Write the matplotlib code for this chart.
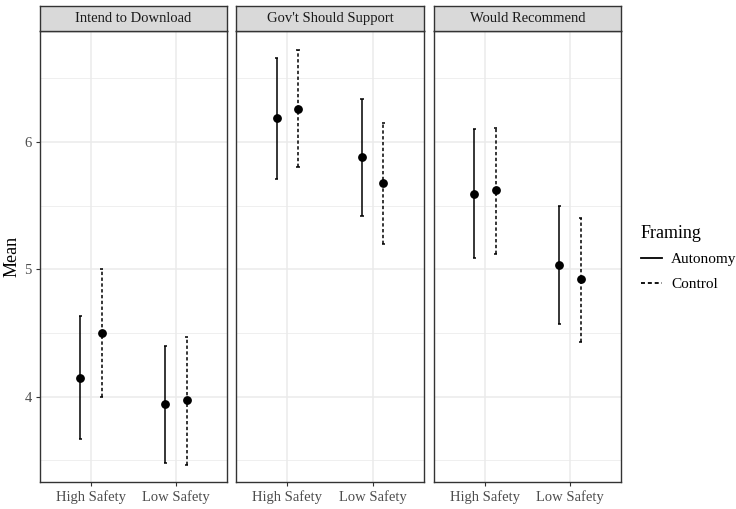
import matplotlib
matplotlib.use("Agg")
import matplotlib.pyplot as plt
from matplotlib.lines import Line2D
import numpy as np

plt.rcParams['font.family'] = ['Liberation Serif', 'DejaVu Serif']

panels = ["Intend to Download", "Gov't Should Support", "Would Recommend"]
categories = ["High Safety", "Low Safety"]
series = ["Autonomy", "Control"]

# values per panel, [High Safety, Low Safety]
mean_autonomy = [[4.15, 3.94], [6.19, 5.88], [5.59, 5.03]]
lower_autonomy = [[3.67, 3.48], [5.71, 5.42], [5.09, 4.57]]
upper_autonomy = [[4.63, 4.40], [6.66, 6.34], [6.10, 5.50]]
mean_control = [[4.50, 3.97], [6.26, 5.68], [5.62, 4.92]]
lower_control = [[4.00, 3.46], [5.80, 5.20], [5.12, 4.43]]
upper_control = [[5.00, 4.47], [6.72, 6.15], [6.11, 5.40]]

yticks = [4, 5, 6]

W, H = 736, 509
fig = plt.figure(figsize=(W / 100, H / 100), dpi=100)

panel_x = [(40, 227), (236, 424), (434, 621)]
ptop, pbot = 31, 482
stop, sbot = 6, 31

dash = (0, (2.2, 1.6))
styles = {"Autonomy": "-", "Control": dash}
dodge = 0.125
ylim = (3.33, 6.87)

for i, (x0, x1) in enumerate(panel_x):
    ax = fig.add_axes([x0 / W, 1 - pbot / H, (x1 - x0) / W, (pbot - ptop) / H])
    ax.set_xlim(0.4, 2.6)
    ax.set_ylim(*ylim)
    ax.set_facecolor('white')
    for y in yticks:
        ax.axhline(y, color='#EBEBEB', lw=1.1, zorder=0)
    for y in [3.5, 4.5, 5.5, 6.5]:
        ax.axhline(y, color='#EBEBEB', lw=0.55, zorder=0)
    xs = np.arange(1, len(categories) + 1)
    for x in xs:
        ax.axvline(x, color='#EBEBEB', lw=1.1, zorder=0)
    for s, (m, lo, hi, off) in zip(series, [
            (mean_autonomy[i], lower_autonomy[i], upper_autonomy[i], -dodge),
            (mean_control[i], lower_control[i], upper_control[i], dodge)]):
        xp = xs + off
        ax.vlines(xp, lo, hi, colors='black', linestyles=[styles[s]], lw=1.1, zorder=2)
        ax.hlines(lo, xp - 0.02, xp + 0.02, colors='black', lw=1.1, zorder=2)
        ax.hlines(hi, xp - 0.02, xp + 0.02, colors='black', lw=1.1, zorder=2)
        ax.scatter(xp, m, s=28, color='black', zorder=3)
    ax.set_xticks(xs)
    ax.set_xticklabels(categories, fontsize=10.5, color='#4D4D4D')
    ax.set_yticks(yticks)
    if i == 0:
        ax.set_yticklabels([str(t) for t in yticks], fontsize=10.5, color='#4D4D4D')
        ax.set_ylabel("Mean", fontsize=13, labelpad=3)
        ax.tick_params(axis='y', length=3, color='#333333', width=0.8, pad=3)
    else:
        ax.tick_params(axis='y', length=0, labelleft=False)
    ax.tick_params(axis='x', length=3, color='#333333', width=0.8, pad=3)
    for sp in ax.spines.values():
        sp.set_color('#333333')
        sp.set_linewidth(1.0)

    sax = fig.add_axes([x0 / W, 1 - sbot / H, (x1 - x0) / W, (sbot - stop) / H])
    sax.set_facecolor('#D9D9D9')
    sax.set_xticks([])
    sax.set_yticks([])
    for sp in sax.spines.values():
        sp.set_color('#333333')
        sp.set_linewidth(1.0)
    sax.text(0.5, 0.5, panels[i], ha='center', va='center', fontsize=10.5,
             color='#1A1A1A', transform=sax.transAxes)

handles = [Line2D([0], [0], color='black', lw=1.3, linestyle=styles[s]) for s in series]
leg = fig.legend(handles, series, title="Framing", loc='center left',
                 bbox_to_anchor=(627 / W, 1 - 258 / H), frameon=False,
                 fontsize=11, title_fontsize=13, handlelength=1.4,
                 handletextpad=0.6, labelspacing=0.7)
leg._legend_box.align = "left"

fig.savefig("out.png", dpi=100)
